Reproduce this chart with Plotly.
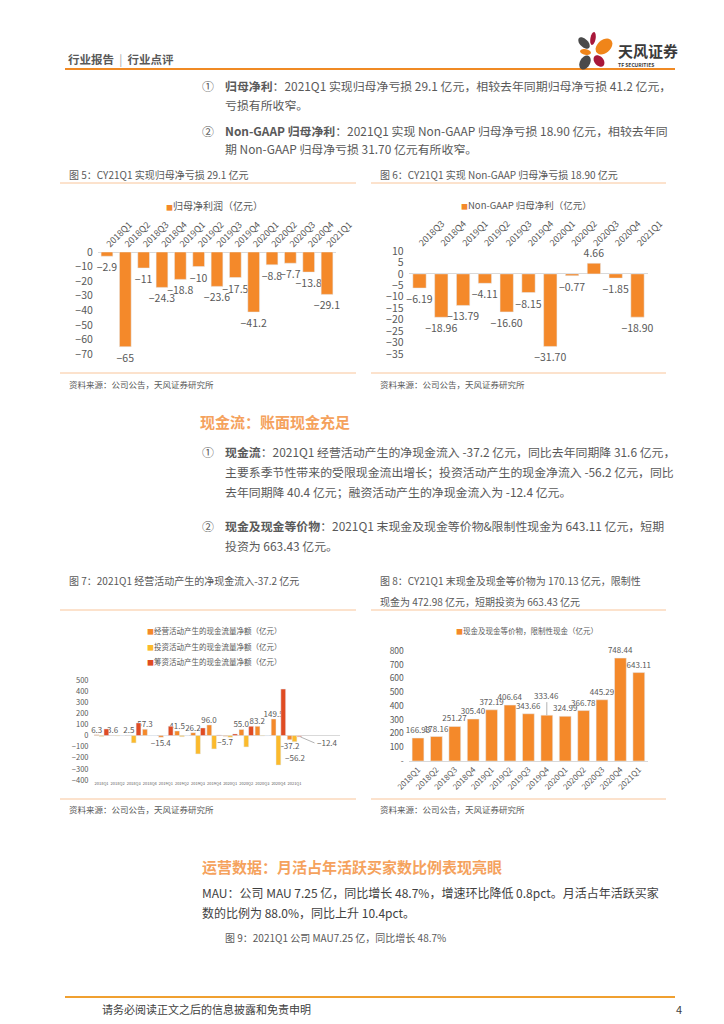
import math
import plotly.graph_objects as go

W, H = 724, 1024
FONT = "Noto Sans CJK SC"
GRAY = "#595959"
DARK = "#3F3F3F"
ORANGE = "#F4892A"
YELLOW = "#FBBA2C"
RED = "#E04B22"
PINK = "#F2A089"
LINE_OR = "#F9C59A"
HEAD_OR = "#F5A25D"

# ---------------- data ----------------
q5 = ["2018Q1", "2018Q2", "2018Q3", "2018Q4", "2019Q1", "2019Q2", "2019Q3",
      "2019Q4", "2020Q1", "2020Q2", "2020Q3", "2020Q4", "2021Q1"]
net_profit = [-2.9, -65, -11, -24.3, -18.8, -10, -23.6, -17.5, -41.2, -8.8, -7.7, -13.8, -29.1]

q6 = ["2018Q3", "2018Q4", "2019Q1", "2019Q2", "2019Q3", "2019Q4", "2020Q1",
      "2020Q2", "2020Q3", "2020Q4", "2021Q1"]
nongaap = [-6.19, -18.96, -13.79, -4.11, -16.60, -8.15, -31.70, -0.77, 4.66, -1.85, -18.90]

q7 = ["2018Q1", "2018Q2", "2018Q3", "2018Q4", "2019Q1", "2019Q2", "2019Q3",
      "2019Q4", "2020Q1", "2020Q2", "2020Q3", "2020Q4", "2021Q1"]
cf_oper = [6.3, 3.6, 2.5, 57.3, -15.4, 41.5, 26.2, 96.0, -5.7, 55.0, 83.2, 149.5, -37.2]
cf_inv = [-8, -3, -66, 0, 0, -10, -165, -120, -15, -102, -3, -266, -56.2]
cf_fin = [60, 0, 114, 0, 84, 0, 69, 6, 15, 84, 0, 419, -12.4]

q8 = ["2018Q1", "2018Q2", "2018Q3", "2018Q4", "2019Q1", "2019Q2", "2019Q3",
      "2019Q4", "2020Q1", "2020Q2", "2020Q3", "2020Q4", "2021Q1"]
cash = [166.93, 178.16, 251.27, 305.40, 372.19, 406.64, 343.66, 333.46, 324.99,
        366.78, 445.29, 748.44, 643.11]
cash_tickvals = [0, 100, 200, 300, 400, 500, 600, 700, 800]
cash_ticktext = ["-", "100", "200", "300", "400", "500", "600", "700", "800"]

# ---------------- helpers ----------------
def px(x):
    return x / W

def py(y):
    return 1 - y / H

def lab(v, fmt):
    return format(v, fmt).replace("-", "\u2212")

annotations = []
shapes = []

def txt(x, y, s, size, color=GRAY, anchor="left"):
    annotations.append(dict(x=px(x), y=py(y), xref="paper", yref="paper", text=s,
                            showarrow=False, xanchor=anchor, yanchor="middle",
                            font=dict(size=size, color=color, family=FONT)))

def hline(x0, x1, y, color, width):
    shapes.append(dict(type="line", xref="paper", yref="paper", x0=px(x0), x1=px(x1),
                       y0=py(y), y1=py(y), line=dict(color=color, width=width)))

def petal(cx, cy, rx, ry, ang, color):
    a = math.radians(ang)
    pts = []
    for i in range(28):
        t = 2 * math.pi * i / 28
        ex, ey = rx * math.cos(t), ry * math.sin(t)
        X = cx + ex * math.cos(a) - ey * math.sin(a)
        Y = cy + ex * math.sin(a) + ey * math.cos(a)
        pts.append(f"{px(X):.5f},{py(Y):.5f}")
    shapes.append(dict(type="path", xref="paper", yref="paper",
                       path="M" + " L".join(pts) + " Z",
                       fillcolor=color, line=dict(width=0)))

def sq(color):
    return f'<span style="color:{color};font-size:7px">■</span>'

# ---------------- traces ----------------
fig = go.Figure()

fig.add_trace(go.Bar(x=q5, y=net_profit, xaxis="x", yaxis="y", marker_color=ORANGE,
                     width=0.64, text=[lab(v, "g") for v in net_profit],
                     textposition="outside", textangle=0, constraintext="none",
                     cliponaxis=False, textfont=dict(size=10.5, color=GRAY),
                     showlegend=False))

fig.add_trace(go.Bar(x=q6, y=nongaap, xaxis="x2", yaxis="y2", marker_color=ORANGE,
                     width=0.61, text=[lab(v, ".2f") for v in nongaap],
                     textposition="outside", textangle=0, constraintext="none",
                     cliponaxis=False, textfont=dict(size=10.5, color=GRAY),
                     showlegend=False))

fig.add_trace(go.Bar(x=q7, y=cf_oper, xaxis="x3", yaxis="y3", marker_color=ORANGE,
                     text=[lab(v, ".1f") for v in cf_oper],
                     textposition="outside", textangle=0, constraintext="none",
                     cliponaxis=False, textfont=dict(size=8, color=GRAY),
                     showlegend=False))
fig.add_trace(go.Bar(x=q7, y=cf_inv, xaxis="x3", yaxis="y3", marker_color=YELLOW,
                     showlegend=False, cliponaxis=False))
fin_colors = [RED] * (len(cf_fin) - 1) + [PINK]
fig.add_trace(go.Bar(x=q7, y=cf_fin, xaxis="x3", yaxis="y3", marker_color=fin_colors,
                     showlegend=False, cliponaxis=False))

cash_text = [lab(v, ".2f") for v in cash]
lead_idx = q8.index("2019Q4")
cash_text[lead_idx] = ""
fig.add_trace(go.Bar(x=q8, y=cash, xaxis="x4", yaxis="y4", marker_color=ORANGE,
                     width=0.64, text=cash_text, textposition="outside", textangle=0,
                     constraintext="none", cliponaxis=False,
                     textfont=dict(size=8, color=GRAY), showlegend=False))

# data labels placed with offsets / leader lines
annotations.append(dict(x=q8[lead_idx], y=cash[lead_idx], xref="x4", yref="y4",
                        text=lab(cash[lead_idx], ".2f"), showarrow=True, arrowhead=0,
                        arrowwidth=0.6, arrowcolor="#7F7F7F", ax=0, ay=-20,
                        font=dict(size=8, color=GRAY, family=FONT)))
annotations.append(dict(x=q7[-1], y=cf_inv[-1], xref="x3", yref="y3", xshift=1,
                        yshift=-8, yanchor="top", showarrow=False,
                        text=lab(cf_inv[-1], ".1f"),
                        font=dict(size=8, color=GRAY, family=FONT)))
annotations.append(dict(x=q7[-1], y=cf_fin[-1], xref="x3", yref="y3", xshift=6,
                        text=lab(cf_fin[-1], ".1f"), showarrow=True, arrowhead=0,
                        arrowwidth=0.6, arrowcolor="#7F7F7F", ax=14, ay=6,
                        font=dict(size=8, color=GRAY, family=FONT), xanchor="left"))

# ---------------- axes ----------------
tick_font = dict(size=10.5, color=GRAY, family=FONT)
common_x = dict(type="category", showgrid=False, zeroline=False, showline=False,
                ticks="", automargin=False)
common_y = dict(showgrid=False, showline=False, ticks="", zeroline=True,
                zerolinecolor="#D9D9D9", zerolinewidth=1, automargin=False,
                ticklabelstandoff=4)

layout_axes = dict(
    xaxis=dict(domain=[px(89.8), px(328.2)], anchor="y", side="top", tickangle=-45,
               tickfont=dict(size=9, color=GRAY, family=FONT), **common_x),
    yaxis=dict(domain=[py(346), py(244)], anchor="x", range=[-70, 0], dtick=10,
               tickfont=tick_font, **common_y),
    xaxis2=dict(domain=[px(400.6), px(640.4)], anchor="y2", side="top", tickangle=-45,
                tickfont=dict(size=9, color=GRAY, family=FONT), **common_x),
    yaxis2=dict(domain=[py(346), py(243)], anchor="x2", range=[-35, 10], dtick=5,
                tickfont=tick_font, **common_y),
    xaxis3=dict(domain=[px(85.5), px(331.5)], anchor="y3", tickangle=0,
                tickfont=dict(size=4, color=GRAY, family=FONT), **common_x),
    yaxis3=dict(domain=[py(772), py(672)], anchor="x3", range=[-400, 500], dtick=100,
                tickfont=dict(size=7.5, color=GRAY, family=FONT), **common_y),
    xaxis4=dict(domain=[px(400.8), px(640)], anchor="y4", tickangle=-45,
                tickfont=dict(size=8, color=GRAY, family=FONT), type="category",
                showgrid=False, zeroline=False, showline=True, linecolor="#D9D9D9",
                ticks="", automargin=False),
    yaxis4=dict(domain=[py(753), py(643)], anchor="x4", range=[0, 800],
                tickvals=cash_tickvals, ticktext=cash_ticktext,
                tickfont=dict(size=8.5, color=GRAY, family=FONT), showgrid=False,
                showline=False, ticks="", zeroline=False, automargin=False,
                ticklabelstandoff=4),
)

# ---------------- page texts ----------------
txt(58, 51, "<b>行业报告</b>  <span style='color:#A6A6A6'>|</span>  <b>行业点评</b>", 11.5, GRAY)
txt(608, 42, "<b>天风证券</b>", 15, "#3A3A3A")
txt(608, 56, "<b>TF SECURITIES</b>", 5, "#3A3A3A")

BODY = 11.9
txt(192, 77, "①", BODY)
txt(215, 77, "<b>归母净利</b>：2021Q1 实现归母净亏损 29.1 亿元，相较去年同期归母净亏损 41.2 亿元，", BODY)
txt(215, 96, "亏损有所收窄。", BODY)
txt(192, 122, "②", BODY)
txt(215, 122, "<b>Non-GAAP 归母净利</b>：2021Q1 实现 Non-GAAP 归母净亏损 18.90 亿元，相较去年同", BODY)
txt(215, 140, "期 Non-GAAP 归母净亏损 31.70 亿元有所收窄。", BODY)

txt(59, 166, "图 5：CY21Q1 实现归母净亏损 29.1 亿元", 10)
txt(370, 166, "图 6：CY21Q1 实现 Non-GAAP 归母净亏损 18.90 亿元", 10)
txt(156, 197, sq(ORANGE) + "归母净利润（亿元）", 10)
txt(451, 197, sq(ORANGE) + "Non-GAAP 归母净利（亿元）", 9.5)
txt(59, 376, "资料来源：公司公告，天风证券研究所", 8.5)
txt(370, 376, "资料来源：公司公告，天风证券研究所", 8.5)

txt(190, 413, "<b>现金流：账面现金充足</b>", 15, HEAD_OR)
txt(192, 443, "①", BODY)
txt(215, 443, "<b>现金流</b>：2021Q1 经营活动产生的净现金流入 -37.2 亿元，同比去年同期降 31.6 亿元，", BODY)
txt(215, 463, "主要系季节性带来的受限现金流出增长；投资活动产生的现金净流入 -56.2 亿元，同比", BODY)
txt(215, 483, "去年同期降 40.4 亿元；融资活动产生的净现金流入为 -12.4 亿元。", BODY)
txt(192, 517, "②", BODY)
txt(215, 517, "<b>现金及现金等价物</b>：2021Q1 末现金及现金等价物&限制性现金为 643.11 亿元，短期", BODY)
txt(215, 537, "投资为 663.43 亿元。", BODY)

txt(59, 572, "图 7：2021Q1 经营活动产生的净现金流入-37.2 亿元", 10)
txt(370, 572, "图 8：CY21Q1 末现金及现金等价物为 170.13 亿元，限制性", 10)
txt(370, 593, "现金为 472.98 亿元，短期投资为 663.43 亿元", 10)
txt(137, 622, sq(ORANGE) + "经营活动产生的现金流量净额（亿元）", 7.5)
txt(137, 638, sq(YELLOW) + "投资活动产生的现金流量净额（亿元）", 7.5)
txt(137, 653, sq(RED) + "筹资活动产生的现金流量净额（亿元）", 7.5)
txt(446, 622, sq(ORANGE) + "现金及现金等价物，限制性现金（亿元）", 7.5)
txt(59, 801, "资料来源：公司公告，天风证券研究所", 8.5)
txt(370, 801, "资料来源：公司公告，天风证券研究所", 8.5)

txt(192, 858, "<b>运营数据：月活占年活跃买家数比例表现亮眼</b>", 15, HEAD_OR)
txt(192, 884, "MAU：公司 MAU 7.25 亿，同比增长 48.7%，增速环比降低 0.8pct。月活占年活跃买家", 12, DARK)
txt(192, 904, "数的比例为 88.0%，同比上升 10.4pct。", 12, DARK)
txt(215, 929, "图 9：2021Q1 公司 MAU7.25 亿，同比增长 48.7%", 10)

txt(92, 1001, "请务必阅读正文之后的信息披露和免责申明", 11, "#404040")
txt(676, 1001, "4", 11, "#404040", anchor="right")

# ---------------- lines & logo ----------------
hline(57, 667, 61, "#F08A24", 2)
hline(52, 348, 175, LINE_OR, 1)
hline(363, 658, 175, LINE_OR, 1)
hline(52, 348, 365, LINE_OR, 1)
hline(363, 658, 365, LINE_OR, 1)
hline(52, 348, 602, LINE_OR, 1)
hline(363, 658, 602, LINE_OR, 1)
hline(52, 348, 791, LINE_OR, 1)
hline(363, 658, 791, LINE_OR, 1)
hline(57, 667, 989, "#F0A030", 2)

petal(576, 35, 7, 4, 45, "#4A4A4A")
petal(585, 30.5, 2.6, 6.5, 10, "#A8173A")
petal(596, 38.5, 9.5, 6.5, -40, "#F08519")
petal(577.5, 44, 5.5, 2.8, 10, "#F08519")
petal(591, 53, 6.5, 4.5, 50, "#A8173A")
petal(577, 54.5, 7.5, 5, -60, "#4A4A4A")

fig.update_layout(
    width=W, height=H,
    margin=dict(l=0, r=0, t=0, b=0, pad=0, autoexpand=False),
    paper_bgcolor="white", plot_bgcolor="white",
    font=dict(family=FONT, color=GRAY),
    barmode="group", bargap=0.1, bargroupgap=0,
    annotations=annotations, shapes=shapes, showlegend=False,
    **layout_axes,
)

fig.write_html("out.html")
